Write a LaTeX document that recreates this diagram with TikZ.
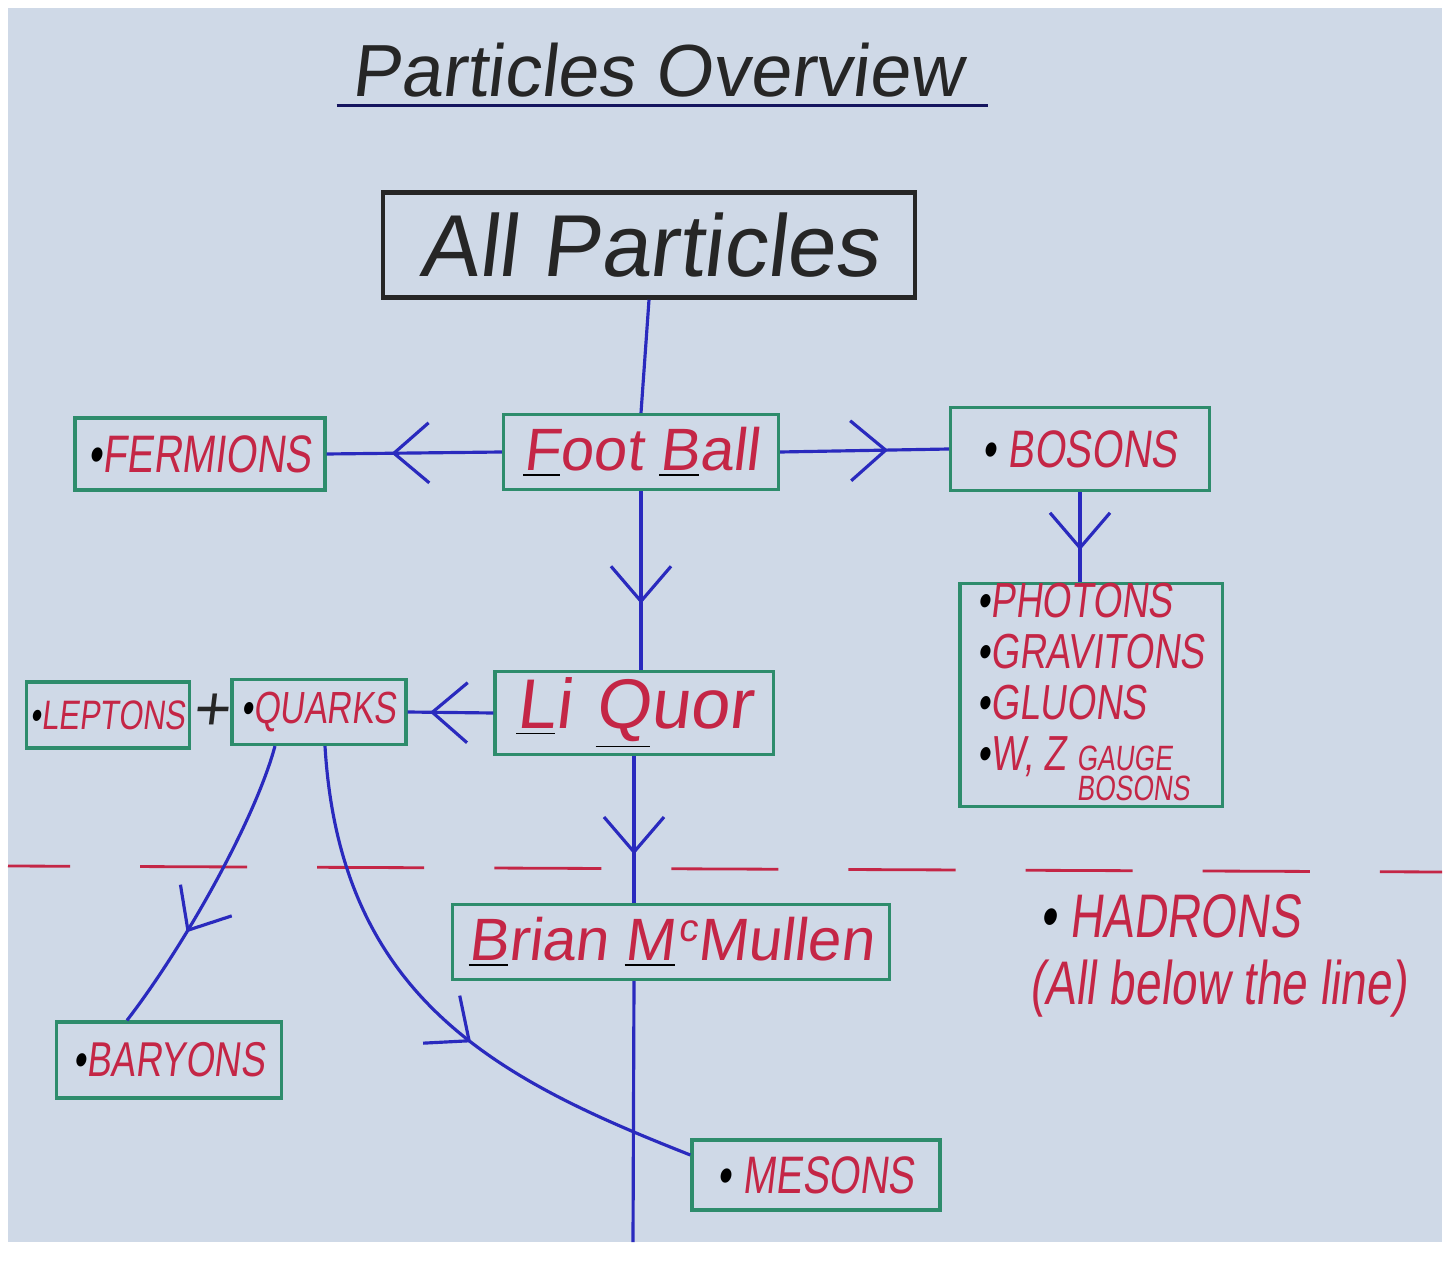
\documentclass[tikz,border=0pt]{standalone}
\usepackage{fontspec}
\setmainfont{Liberation Sans}
\newfontfamily\handfont[FakeSlant=0.12]{Liberation Sans}
\newfontfamily\capsfont[FakeStretch=0.75, FakeSlant=0.12]{Liberation Sans}
\usetikzlibrary{positioning, arrows.meta, decorations.markings}
\definecolor{paper}{RGB}{207,217,231}
\definecolor{inkred}{RGB}{196,38,70}
\definecolor{inkblue}{RGB}{42,42,190}
\definecolor{boxgreen}{RGB}{46,140,108}
\newcommand*{\keyletter}[1]{{\color{black}\underline{\color{inkred}#1}}}
\newcommand*{\pdot}{{\color{black}\textbullet}}
\newcommand*{\handsize}[1]{\handfont\fontsize{#1}{#1}\selectfont}
\newcommand*{\capssize}[1]{\capsfont\fontsize{#1}{#1}\selectfont}
\tikzset{
  greenbox/.style={draw=boxgreen, line width=0.9pt, inner sep=0pt, text=inkred},
  link/.style={draw=inkblue, line width=0.9pt},
  midarrow/.style={postaction={decorate}, decoration={markings,
    mark=at position #1 with {\arrow{Straight Barb[length=3.5mm, width=6mm, line width=0.9pt]}}}},
}

\begin{document}
\begin{tikzpicture}[x=0.01cm, y=-0.01cm]
\useasboundingbox (0,0) rectangle (1448,1261);
\fill[white] (0,0) rectangle (1448,1261);
\fill[paper] (8,8) rectangle (1442,1242);

% title
\node (T) [anchor=base, inner sep=2pt, text=black!85, font=\handsize{21}] at (657,97) {Particles Overview};
\draw[inkblue!50!black, line width=1pt] ([xshift=-2pt]T.south west) -- ([xshift=5pt]T.south east);

\node (AP) [draw=black!85, line width=1.3pt, minimum width=5.32cm, minimum height=1.05cm, text=black!85, font=\handsize{25}] at (649,245) {All Particles};

\node (FB) [greenbox, minimum width=2.75cm, minimum height=0.75cm, font=\handsize{17}] at (641,452) {\keyletter{F}oot \keyletter{B}all};
\node (FE) [greenbox, minimum width=2.5cm, minimum height=0.72cm, font=\capssize{15}] at (200,454) {\pdot FERMIONS};
\node (BO) [greenbox, minimum width=2.59cm, minimum height=0.83cm, font=\capssize{15}] at (1080,449) {\pdot\ BOSONS};
\node (PH) [greenbox, minimum width=2.62cm, minimum height=2.1cm, align=left, font=\capsfont\fontsize{14}{14.5}\selectfont] at (1091,695)
  {\pdot PHOTONS\\\pdot GRAVITONS\\\pdot GLUONS\\\pdot W, Z {\fontsize{10}{8}\selectfont\def\arraystretch{0.7}\begin{tabular}[t]{@{}l@{}}GAUGE\\BOSONS\end{tabular}}};

\node (LQ) [greenbox, minimum width=2.78cm, minimum height=0.83cm, font=\handsize{20}] at (634,713) {\keyletter{L}i\hspace{0.35em}\keyletter{Q}uor};
\node (QU) [greenbox, minimum width=1.74cm, minimum height=0.65cm, font=\capssize{12.8}] at (319,712) {\pdot QUARKS};
\node (LE) [greenbox, minimum width=1.63cm, minimum height=0.66cm, font=\capssize{11.7}] at (108,715) {\pdot LEPTONS};
\node (PL) [text=black!85, font=\handsize{18}] at (211,712) {+};

\node (BM) [greenbox, minimum width=4.37cm, minimum height=0.75cm, font=\handsize{17}] at (671,942) {\keyletter{B}rian \keyletter{M}\kern1pt\raisebox{0.6ex}{\fontsize{11}{11}\selectfont c}Mullen};
\node (HA) [inner sep=0pt, text=inkred, font=\capssize{17.5}] at (1170,916) {\pdot\ HADRONS};
\node (HB) [inner sep=0pt, text=inkred, font=\capssize{17.5}, below=6pt of HA.south -| {(1218,0)}, anchor=north] {(All below the line)};

\node (BA) [greenbox, minimum width=2.25cm, minimum height=0.76cm, font=\capssize{13.9}] at (169,1060) {\pdot BARYONS};
\node (ME) [greenbox, minimum width=2.48cm, minimum height=0.70cm, font=\capssize{15}] at (816,1175) {\pdot\ MESONS};

% the line
\coordinate (DL) at (8,866);
\coordinate (DR) at (1442,872);
\draw[inkred, line width=0.8pt, dash pattern=on 1.07cm off 0.7cm, dash phase=0.45cm] (DL) -- (DR);

% connectors
\coordinate (END) at (633,1242);
\draw[link] (AP.south) -- (FB.north);
\draw[link, midarrow=0.63] (FB.west) -- (FE.east);
\draw[link, midarrow=0.64] (FB.east) -- (BO.west);
\draw[link, midarrow=0.65] (BO.south) -- (BO.south |- PH.north);
\draw[link, midarrow=0.63] (FB.south) -- (FB.south |- LQ.north);
\draw[link, midarrow=0.74] (LQ.west) -- (QU.east);
\draw[link, midarrow=0.67] (LQ.south) -- (LQ.south |- BM.north);
\draw[link] (LQ.south |- BM.south) -- (END);
\draw[link, midarrow=0.66] ([xshift=-0.44cm]QU.south) .. controls (255,820) and (185,945) .. ([xshift=-0.42cm]BA.north);
\draw[link, midarrow=0.58] ([xshift=0.06cm]QU.south) .. controls (340,1000) and (500,1080) .. ([yshift=0.2cm]ME.west);
\end{tikzpicture}
\end{document}
